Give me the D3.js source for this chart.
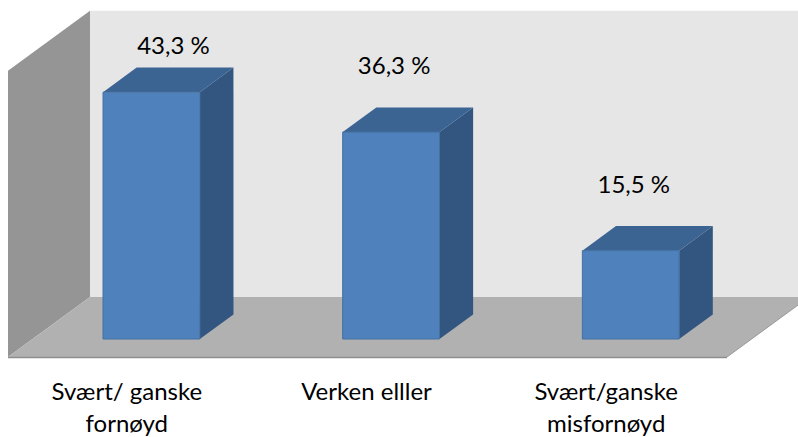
<!DOCTYPE html>
<html><head><meta charset="utf-8">
<script src="https://cdn.jsdelivr.net/npm/d3@7"></script>
<style>html,body{margin:0;padding:0;background:#fff;}svg{display:block;}</style>
</head><body>
<script>
const categories = [["Svært/ ganske","fornøyd"],["Verken elller"],["Svært/ganske","misfornøyd"]];
const values = [43.3, 36.3, 15.5];
const valueLabels = ["43,3 %","36,3 %","15,5 %"];

const W = 798, H = 437;
const svg = d3.select("body").append("svg").attr("width", W).attr("height", H);

// 3D projection parameters
const floorFrontY = 357;           // front edge of the floor
const frontLeftX = 8;
const frontRightX = 727;
const depthX = 82, depthY = -60;   // full depth vector
const barFront = 0.30, barBack = 0.71; // bar position within the depth

const x = d3.scaleBand().domain(d3.range(values.length))
  .range([frontLeftX - 1, frontRightX - 1]).paddingInner(0.596).paddingOuter(0.298);
const h = d3.scaleLinear().domain([0, 50]).range([0, 285]);
const wallH = h(50.2);

const proj = (px, depth, height) => [px + depth * depthX, floorFrontY + depth * depthY - height];

// back wall
const bw = [proj(frontLeftX,1,0), proj(frontLeftX,1,wallH), [W+5, proj(frontLeftX,1,wallH)[1]], [W+5, proj(frontLeftX,1,0)[1]]];
svg.append("polygon").attr("points", bw.join(" ")).attr("fill", "#e6e6e6");
// side wall
const sw = [proj(frontLeftX,0,0), proj(frontLeftX,0,wallH), proj(frontLeftX,1,wallH), proj(frontLeftX,1,0)];
svg.append("polygon").attr("points", sw.join(" ")).attr("fill", "#959595");
// floor
const fl = [proj(frontLeftX,0,0), proj(frontLeftX,1,0), proj(frontRightX,1,0), proj(frontRightX,0,0)];
svg.append("polygon").attr("points", fl.join(" ")).attr("fill", "#b1b1b1");
svg.append("line").attr("x1", fl[0][0]).attr("y1", fl[0][1]+0.5).attr("x2", fl[3][0]).attr("y2", fl[3][1]+0.5)
  .attr("stroke", "#8e8e8e").attr("stroke-width", 1.5);
svg.append("line").attr("x1", fl[3][0]).attr("y1", fl[3][1]).attr("x2", fl[2][0]).attr("y2", fl[2][1])
  .attr("stroke", "#9a9a9a").attr("stroke-width", 1);

// bars
const g = svg.append("g");
values.forEach((v, i) => {
  const x0 = x(i), x1 = x(i) + x.bandwidth(), hv = h(v);
  const fbl = proj(x0, barFront, 0), fbr = proj(x1, barFront, 0);
  const ftl = proj(x0, barFront, hv), ftr = proj(x1, barFront, hv);
  const btl = proj(x0, barBack, hv), btr = proj(x1, barBack, hv), bbr = proj(x1, barBack, 0);
  g.append("polygon").attr("points", [fbr, ftr, btr, bbr].join(" ")).attr("fill", "#335680");
  g.append("polygon").attr("points", [ftl, ftr, btr, btl].join(" ")).attr("fill", "#3c6493");
  g.append("polygon").attr("points", [fbl, ftl, ftr, fbr].join(" ")).attr("fill", "#4f81bd")
    .attr("stroke", "#44709f").attr("stroke-width", 1);

  // value label
  let ly = btl[1] - 33, lx = (fbl[0] + fbr[0]) / 2 + 3;
  const minY = proj(frontLeftX,1,wallH)[1] + 43;
  if (ly < minY) { ly = minY; lx += 19; }
  svg.append("text").attr("x", lx).attr("y", ly).attr("text-anchor", "middle")
    .attr("font-family", "Lato, 'Open Sans', sans-serif").attr("font-size", 24).attr("fill", "#000")
    .text(valueLabels[i]);

  // category label
  const cx = (x0 + x1) / 2;
  const t = svg.append("text").attr("text-anchor", "middle")
    .attr("font-family", "Lato, 'Open Sans', sans-serif").attr("font-size", 24).attr("fill", "#000");
  categories[i].forEach((line, k) => {
    t.append("tspan").attr("x", cx).attr("y", 400 + k * 32).text(line);
  });
});
</script>
</body></html>
